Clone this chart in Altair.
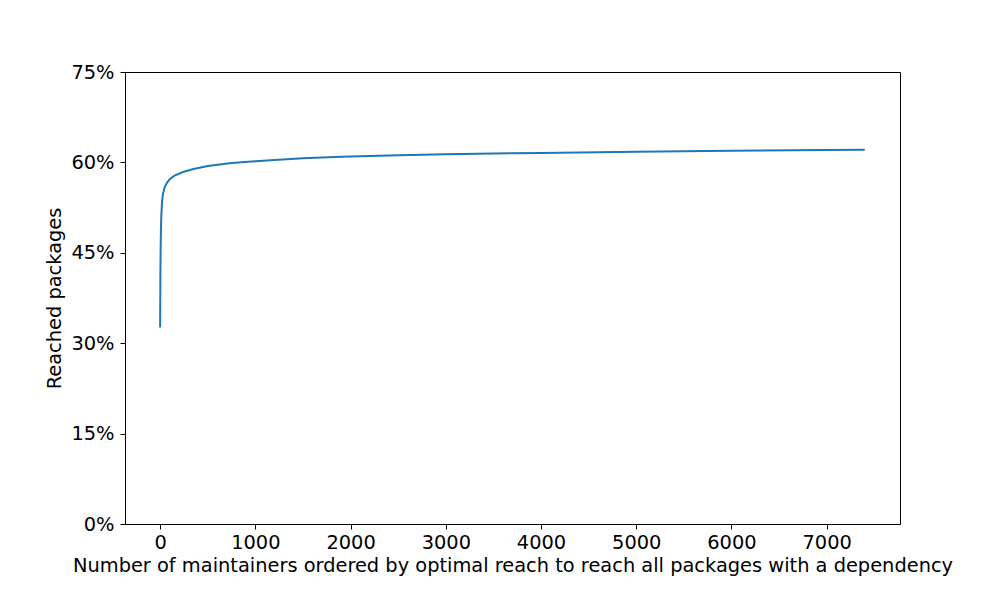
import altair as alt
import pandas as pd

# Number of maintainers (ordered by optimal reach) and cumulative share reached
maintainers = [0, 1, 2, 3, 5, 8, 12, 20, 30, 50, 75, 100, 150, 240, 350, 500,
               750, 1000, 1200, 1500, 1900, 2500, 3000, 3500, 4000, 4600, 5000,
               6000, 7000, 7400]
reached = [0.326, 0.36, 0.39, 0.42, 0.45, 0.485, 0.51, 0.535, 0.548, 0.560,
           0.567, 0.572, 0.578, 0.584, 0.589, 0.594, 0.599, 0.602, 0.604,
           0.607, 0.6095, 0.612, 0.6135, 0.6147, 0.6158, 0.6169, 0.6176,
           0.6192, 0.6205, 0.621]

x_ticks = [0, 1000, 2000, 3000, 4000, 5000, 6000, 7000]
y_ticks = [0, 0.15, 0.30, 0.45, 0.60, 0.75]

df = pd.DataFrame({"x": maintainers, "y": reached})

FONT = "DejaVu Sans"

chart = alt.Chart(df).mark_line(color="#1f77b4", strokeWidth=2).encode(
    x=alt.X("x:Q",
            scale=alt.Scale(domain=[-369, 7770], nice=False, zero=False),
            axis=alt.Axis(values=x_ticks, format="d",
                          title="Number of maintainers ordered by optimal reach to reach all packages with a dependency",
                          grid=False, tickSize=5, labelPadding=4,
                          titlePadding=5)),
    y=alt.Y("y:Q",
            scale=alt.Scale(domain=[0, 0.75], nice=False),
            axis=alt.Axis(values=y_ticks, format=".0%",
                          title="Reached packages",
                          grid=False, tickSize=5, labelPadding=6,
                          titlePadding=6)),
).properties(
    width=775,
    height=452,
    padding={"left": 117, "top": 64, "right": 92, "bottom": 60},
    autosize=alt.AutoSizeParams(type="none"),
    background="white",
).configure_axis(
    labelFont=FONT, titleFont=FONT, labelFontSize=19.4, titleFontSize=19.4,
    labelColor="black", titleColor="black", titleFontWeight="normal",
    domainColor="black", tickColor="black", domainWidth=1, tickWidth=1,
).configure_view(
    stroke="black", strokeWidth=1,
)

chart.save("out.html", embed_options={"renderer": "svg", "actions": False})
